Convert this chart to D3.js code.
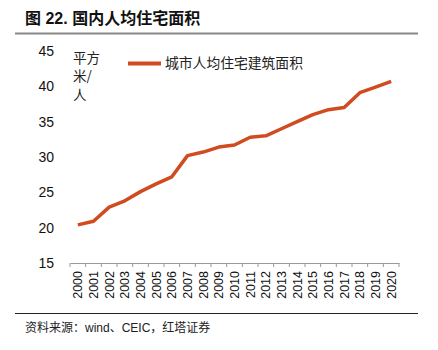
<!DOCTYPE html>
<html><head><meta charset="utf-8">
<script src="https://cdn.jsdelivr.net/npm/d3@7"></script>
<style>body{margin:0;background:#fff}svg{display:block}</style>
</head><body>
<svg id="c" width="438" height="350"></svg>
<script>
const years = ["2000","2001","2002","2003","2004","2005","2006","2007","2008","2009","2010","2011","2012","2013","2014","2015","2016","2017","2018","2019","2020"];
const area = [20.4,20.9,22.9,23.8,25.1,26.2,27.2,30.2,30.7,31.4,31.7,32.8,33.0,34.0,35.0,36.0,36.7,37.0,39.1,39.9,40.7];
const yTicks = [15,20,25,30,35,40,45];
const seriesName = "城市人均住宅建筑面积";
const unitLines = ["平方","米/","人"];
const title = "图 22. 国内人均住宅面积";
const source = "资料来源：wind、CEIC，红塔证券";

const svg = d3.select("#c");
const sans = "'Liberation Sans', Arial, sans-serif";
const cjk = "'Noto Sans CJK SC', sans-serif";
const mixed = "'Liberation Sans', 'Noto Sans CJK SC', sans-serif";
const color = "#D04B1F";

const x = d3.scaleBand().domain(years).range([70, 399]);
const y = d3.scaleLinear().domain([15,45]).range([263, 51]);

// title
svg.append("text").attr("x",25).attr("y",24).attr("font-family",mixed).attr("font-size",16).attr("font-weight","bold").attr("fill","#111").text(title);
svg.append("line").attr("x1",15).attr("x2",418).attr("y1",33.5).attr("y2",33.5).attr("stroke","#888").attr("stroke-width",2);

// y tick labels
svg.append("g").selectAll("text").data(yTicks).join("text")
  .attr("x",54).attr("y",d=>y(d)).attr("dy","0.36em").attr("text-anchor","end")
  .attr("font-family",sans).attr("font-size",14).attr("fill","#111").text(d=>d);

// x axis
const xa = svg.append("g").attr("transform","translate(0,263)")
  .call(d3.axisBottom(x).tickSize(0).tickPadding(0));
xa.select(".domain").attr("stroke","#999");
xa.selectAll(".tick text").remove();
const bounds = years.map(d=>x(d)).concat([x.range()[1]]);
xa.selectAll("line.b").data(bounds).join("line").attr("class","b")
  .attr("x1",d=>d).attr("x2",d=>d).attr("y1",0).attr("y2",4).attr("stroke","#999");
svg.append("g").selectAll("text").data(years).join("text")
  .attr("transform",d=>`translate(${x(d)+x.bandwidth()/2},271) rotate(-90)`)
  .attr("text-anchor","end").attr("dy","0.35em")
  .attr("font-family",sans).attr("font-size",12.5).attr("fill","#111").text(d=>d);

// unit label
svg.append("g").selectAll("text").data(unitLines).join("text")
  .attr("x",73).attr("y",(d,i)=>58+i*18.5).attr("dy","0.35em")
  .attr("font-family",cjk).attr("font-size",13.5).attr("fill","#222").text(d=>d);

// legend
svg.append("line").attr("x1",128).attr("x2",161).attr("y1",63.5).attr("y2",63.5).attr("stroke",color).attr("stroke-width",4);
svg.append("text").attr("x",165).attr("y",63.5).attr("dy","0.35em").attr("font-family",cjk).attr("font-size",13.8).attr("fill","#222").text(seriesName);

// line
const line = d3.line().x((d,i)=>x(years[i])+x.bandwidth()/2).y(d=>y(d));
svg.append("path").datum(area).attr("d",line).attr("fill","none").attr("stroke",color).attr("stroke-width",3.5).attr("stroke-linejoin","round");

// bottom rule + source
svg.append("line").attr("x1",15).attr("x2",418).attr("y1",313.5).attr("y2",313.5).attr("stroke","#222").attr("stroke-width",1);
svg.append("text").attr("x",25).attr("y",328).attr("dy","0.35em").attr("font-family",mixed).attr("font-size",12).attr("fill","#222").text(source);
</script>
</body></html>
